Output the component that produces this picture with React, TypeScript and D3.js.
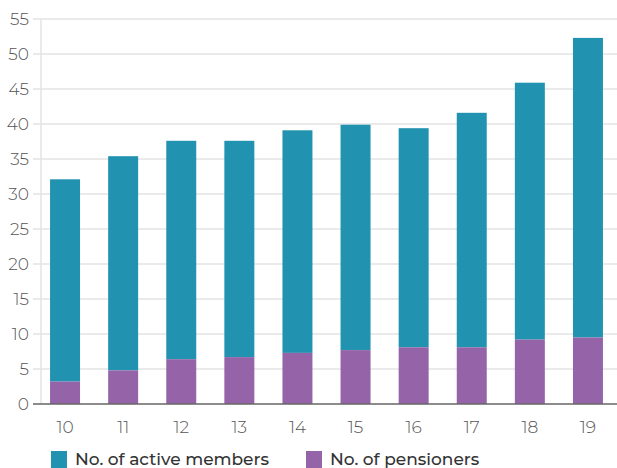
import React from "react";
import * as d3 from "d3";

const years = ["10", "11", "12", "13", "14", "15", "16", "17", "18", "19"];
const pensioners = [3.2, 4.8, 6.4, 6.7, 7.3, 7.7, 8.1, 8.1, 9.2, 9.5];
const totals = [32.1, 35.4, 37.6, 37.6, 39.1, 39.9, 39.4, 41.6, 45.9, 52.3];
const activeMembers = totals.map((t, i) => +(t - pensioners[i]).toFixed(1));
const yTicks = [0, 5, 10, 15, 20, 25, 30, 35, 40, 45, 50, 55];
const seriesNames = ["No. of active members", "No. of pensioners"];

const W = 617;
const H = 468;
const TEAL = "#2193b0";
const PURPLE = "#9563a8";
const FONT = "Montserrat, 'Open Sans', 'Noto Sans', sans-serif";

export default function App() {
  const y = d3.scaleLinear().domain([0, 55]).range([404, 19]);
  const x = d3
    .scaleBand<string>()
    .domain(years)
    .range([36, 617])
    .paddingInner(0.484)
    .paddingOuter(0.242);

  return (
    <svg
      width={W}
      height={H}
      style={{ position: "absolute", left: 0, top: 0, background: "#fff" }}
      fontFamily={FONT}
    >
      {yTicks.map((t) => (
        <g key={t}>
          {t > 0 && (
            <line x1={33} x2={W} y1={y(t)} y2={y(t)} stroke="#e3e3e3" strokeWidth={1.5} />
          )}
          <text
            x={29}
            y={y(t)}
            dy="0.36em"
            textAnchor="end"
            fontSize={17}
            fill="#555"
            fontWeight={300}
          >
            {t}
          </text>
        </g>
      ))}
      <line x1={41} x2={41} y1={19} y2={404} stroke="#e3e3e3" strokeWidth={1.5} />
      {years.map((yr, i) => (
        <g key={yr}>
          <rect
            x={x(yr)}
            width={x.bandwidth()}
            y={y(pensioners[i] + activeMembers[i])}
            height={y(pensioners[i]) - y(pensioners[i] + activeMembers[i])}
            fill={TEAL}
          />
          <rect
            x={x(yr)}
            width={x.bandwidth()}
            y={y(pensioners[i])}
            height={y(0) - y(pensioners[i])}
            fill={PURPLE}
          />
          <text
            x={(x(yr) as number) + x.bandwidth() / 2}
            y={433}
            textAnchor="middle"
            fontSize={17}
            fill="#555"
            fontWeight={300}
          >
            {yr}
          </text>
        </g>
      ))}
      <line x1={33} x2={W} y1={y(0)} y2={y(0)} stroke="#666" strokeWidth={1.5} />
      {seriesNames.map((name, i) => {
        const lx = i === 0 ? 51 : 306;
        return (
          <g key={name}>
            <rect x={lx} y={451} width={16} height={17} fill={i === 0 ? TEAL : PURPLE} />
            <text x={lx + 24} y={465} fontSize={17} fill="#333" fontWeight={500}>
              {name}
            </text>
          </g>
        );
      })}
    </svg>
  );
}
